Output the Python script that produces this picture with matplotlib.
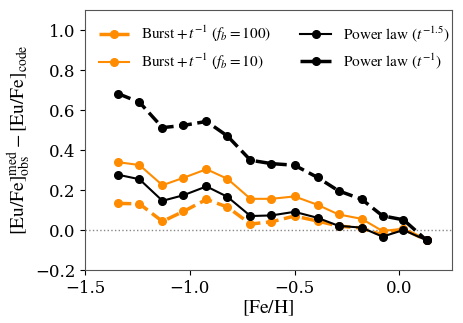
import matplotlib

matplotlib.use("Agg")
from matplotlib import pyplot as plt

plt.rcParams["font.family"] = "serif"
plt.rcParams["font.serif"] = ["DejaVu Serif"]
plt.rcParams["mathtext.fontset"] = "stix"

feh = [-1.34, -1.24, -1.13, -1.03, -0.92, -0.82, -0.71, -0.61,
       -0.50, -0.39, -0.29, -0.18, -0.08, 0.02, 0.13]

burst_100 = [0.133, 0.131, 0.043, 0.093, 0.153, 0.115, 0.030, 0.041,
             0.070, 0.045, 0.020, 0.010, -0.025, 0.005, -0.051]
burst_10 = [0.339, 0.325, 0.224, 0.261, 0.304, 0.256, 0.156, 0.156,
            0.168, 0.126, 0.078, 0.056, -0.005, 0.007, -0.051]
power_15 = [0.276, 0.254, 0.146, 0.174, 0.218, 0.166, 0.070, 0.073,
            0.091, 0.061, 0.021, 0.012, -0.033, 0.000, -0.051]
power_1 = [0.681, 0.639, 0.512, 0.523, 0.543, 0.470, 0.349, 0.332,
           0.324, 0.263, 0.196, 0.154, 0.071, 0.051, -0.051]

fig = plt.figure(figsize=(4.64, 3.23), dpi=100)
ax = fig.add_axes([0.183, 0.164, 0.7905, 0.805])

orange = "#ff8c00"
ax.axhline(0, color="#888888", linestyle=":", linewidth=1.0, zorder=0)
ax.plot(feh, burst_100, color=orange, linestyle="--", linewidth=2.5, marker="o",
        markersize=5.5, label=r"$\mathrm{Burst} + t^{-1}\ (f_b = 100)$")
ax.plot(feh, burst_10, color=orange, linestyle="-", linewidth=1.5, marker="o",
        markersize=5.5, label=r"$\mathrm{Burst} + t^{-1}\ (f_b = 10)$")
ax.plot(feh, power_15, color="black", linestyle="-", linewidth=1.5, marker="o",
        markersize=5.5, label=r"$\mathrm{Power\ law}\ (t^{-1.5})$")
ax.plot(feh, power_1, color="black", linestyle="--", linewidth=2.5, marker="o",
        markersize=5.5, label=r"$\mathrm{Power\ law}\ (t^{-1})$")

ax.set_xlim(-1.5, 0.25)
ax.set_ylim(-0.2, 1.1)
ax.set_xticks([-1.5, -1.0, -0.5, 0.0])
ax.set_yticks([-0.2, 0.0, 0.2, 0.4, 0.6, 0.8, 1.0])
ax.tick_params(labelsize=12)
for s in ax.spines.values():
    s.set_color("#555555")

ax.set_xlabel(r"$[\mathrm{Fe/H}]$", fontsize=14, labelpad=1)
ax.set_ylabel(r"$[\mathrm{Eu/Fe}]_{\mathrm{obs}}^{\mathrm{med}} - [\mathrm{Eu/Fe}]_{\mathrm{code}}$",
              fontsize=14, labelpad=1)

ax.legend(loc="upper left", ncol=2, frameon=False, fontsize=11, numpoints=1,
          handlelength=2.0, columnspacing=1.9, borderaxespad=0.5)

fig.savefig("out.png", dpi=100)
